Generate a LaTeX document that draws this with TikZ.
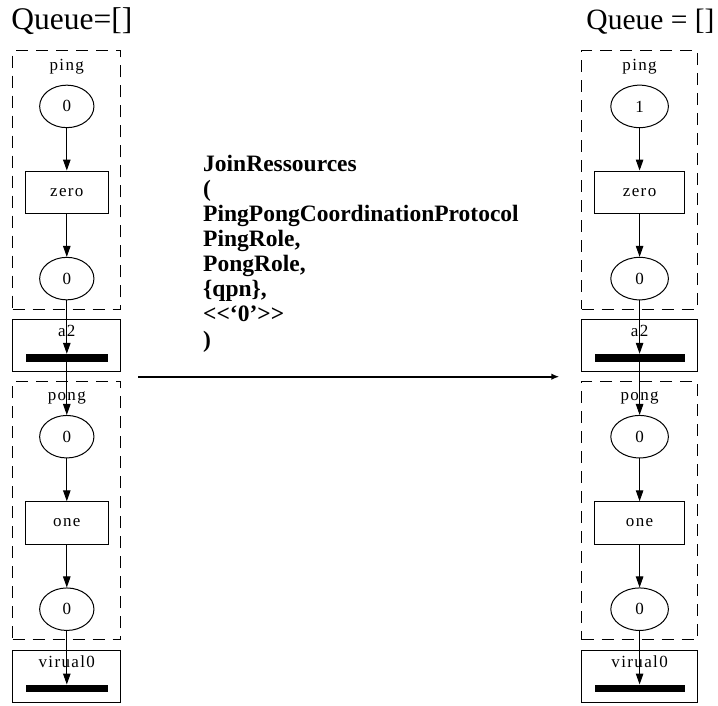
\documentclass[tikz,border=0pt]{standalone}
\usepackage{fontspec}
\setmainfont{Liberation Serif}
\newfontfamily\gvfont[LetterSpace=8]{Liberation Serif}
\usetikzlibrary{shapes.geometric,arrows.meta}

\begin{document}
\begin{tikzpicture}[x=1pt,y=-1pt,line width=1pt,
    every node/.style={font=\fontsize{17}{20}\gvfont},
    place/.style={draw,ellipse,inner sep=0pt,minimum height=42.5pt},
    trans/.style={draw,rectangle,inner sep=0pt,minimum height=42.3pt},
    cluster/.style={draw,dash pattern=on 12pt off 8pt,inner sep=0pt,minimum height=258.5pt},
    syncbox/.style={draw,inner sep=0pt,minimum height=52.6pt},
    bar/.style={fill=black,inner sep=0pt,minimum height=7.4pt},
    arc/.style={-{Triangle[length=11pt,width=7.5pt]}},
    queue/.style={inner sep=0pt,font=\fontsize{31.5}{36}\selectfont}]
                \useasboundingbox (0,0) rectangle (718,705);

                % before
                \node[queue,anchor=base west] (qleft) at (11,29.5) {Queue=[]};

                \node[cluster,minimum width=108.3pt] (pingl) at (66.8,179.9) {};
                \node[anchor=base] at (66.8,70) {ping};
                \node[place,minimum width=54.3pt] (pl1) at (66.8,106.4) {0};
                \node[trans,minimum width=82.6pt] (zerol) at (66.8,192.2) {zero};
                \node[place,minimum width=54.3pt] (pl2) at (66.8,278.6) {0};

                \node[syncbox,minimum width=108.3pt] (a2l) at (66.8,345.5) {};
                \node[anchor=base] at (66.8,336.7) {a2};
                \node[bar,minimum width=82.6pt] (a2lbar) at (66.8,358) {};

                \node[cluster,minimum width=108.3pt] (pongl) at (66.8,510.5) {};
                \node[anchor=base] at (66.8,400) {pong};
                \node[place,minimum width=54.3pt] (pl3) at (66.8,436.7) {0};
                \node[trans,minimum width=82.6pt] (onel) at (66.8,522.9) {one};
                \node[place,minimum width=54.3pt] (pl4) at (66.8,609.2) {0};

                \node[syncbox,minimum width=108.3pt] (v0l) at (66.8,676.5) {};
                \node[anchor=base] at (66.8,667.3) {virual0};
                \node[bar,minimum width=82.6pt] (v0lbar) at (66.8,688.7) {};

                \draw[arc] (pl1) -- (zerol);
                \draw[arc] (zerol) -- (pl2);
                \draw[arc] (pl2) -- (a2lbar);
                \draw[arc] (a2lbar) -- (pl3);
                \draw[arc] (pl3) -- (onel);
                \draw[arc] (onel) -- (pl4);
                \draw[arc] (pl4) -- (v0lbar);

                % after
                \node[queue,anchor=base east,font=\fontsize{29.5}{34}\selectfont] (qright) at (715,29.5) {Queue = []};

                \node[cluster,minimum width=116pt] (pingr) at (639.6,179.9) {};
                \node[anchor=base] at (639.6,70) {ping};
                \node[place,minimum width=57.6pt] (pr1) at (639.6,106.4) {1};
                \node[trans,minimum width=90pt] (zeror) at (639.6,192.2) {zero};
                \node[place,minimum width=57.6pt] (pr2) at (639.6,278.6) {0};

                \node[syncbox,minimum width=116pt] (a2r) at (639.6,345.5) {};
                \node[anchor=base] at (639.6,336.7) {a2};
                \node[bar,minimum width=90pt] (a2rbar) at (639.6,358) {};

                \node[cluster,minimum width=116pt] (pongr) at (639.6,510.5) {};
                \node[anchor=base] at (639.6,400) {pong};
                \node[place,minimum width=57.6pt] (pr3) at (639.6,436.7) {0};
                \node[trans,minimum width=90pt] (oner) at (639.6,522.9) {one};
                \node[place,minimum width=57.6pt] (pr4) at (639.6,609.2) {0};

                \node[syncbox,minimum width=116pt] (v0r) at (639.6,676.5) {};
                \node[anchor=base] at (639.6,667.3) {virual0};
                \node[bar,minimum width=90pt] (v0rbar) at (639.6,688.7) {};

                \draw[arc] (pr1) -- (zeror);
                \draw[arc] (zeror) -- (pr2);
                \draw[arc] (pr2) -- (a2rbar);
                \draw[arc] (a2rbar) -- (pr3);
                \draw[arc] (pr3) -- (oner);
                \draw[arc] (oner) -- (pr4);
                \draw[arc] (pr4) -- (v0rbar);

                % the join
                \node[anchor=north west,inner sep=0pt,align=left,
                      font=\fontsize{23.5}{25.1}\selectfont\bfseries] (join) at (202.7,154.5)
                    {JoinRessources\\
                     (\\
                     PingPongCoordinationProtocol\\
                     PingRole,\\
                     PongRole,\\
                     \{qpn\},\\
                     \mbox{<}\mbox{<}‘0’\mbox{>}\mbox{>}\\
                     )};
                \coordinate (jfrom) at (138.3,376.7);
                \coordinate (jto) at (559.3,376.7);
                \draw[line width=1.6pt,-{Latex[length=8pt,width=6.5pt]}] (jfrom) -- (jto);
            \end{tikzpicture}
\end{document}
